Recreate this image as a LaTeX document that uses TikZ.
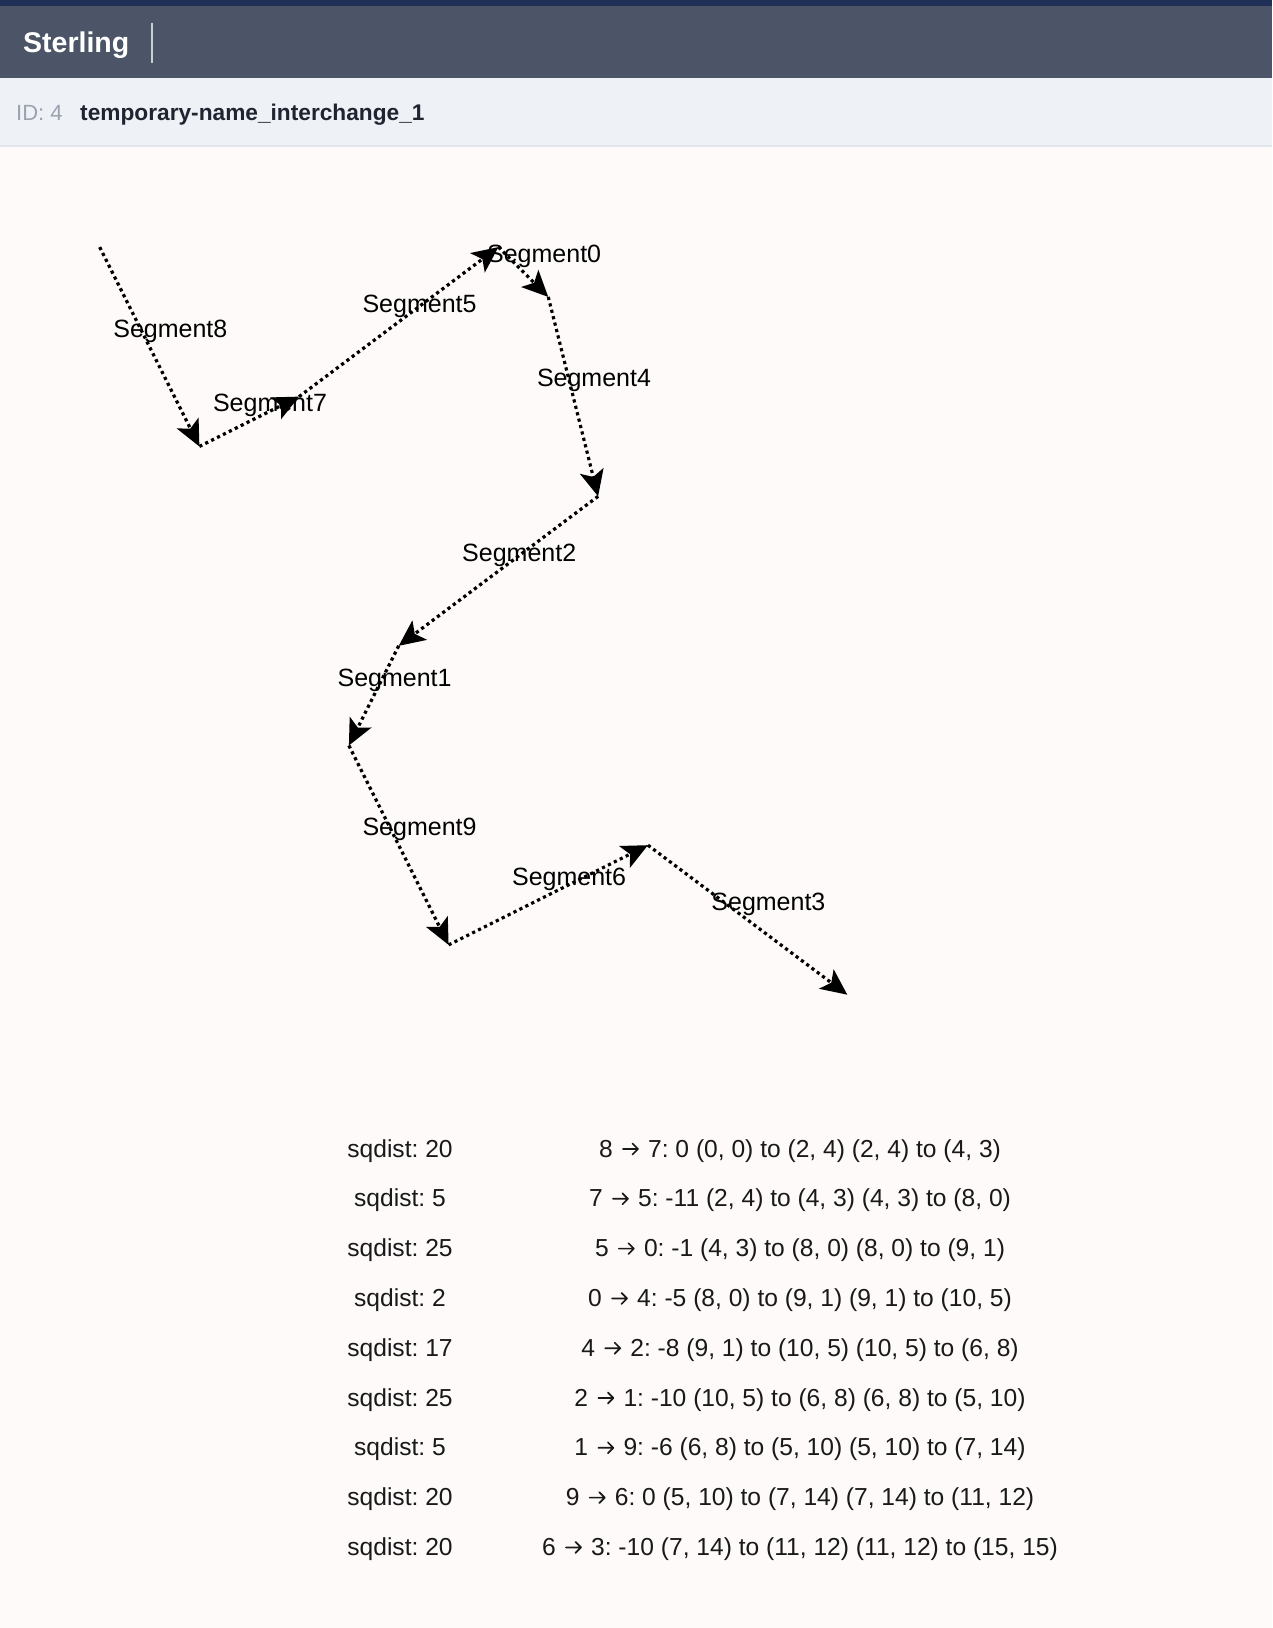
\documentclass[tikz,border=0pt]{standalone}
\usepackage{fontspec}
\setmainfont{Liberation Sans}
\usetikzlibrary{arrows.meta}
\frenchspacing
\definecolor{bg}{HTML}{FDFAF9}
\definecolor{navy}{HTML}{1F2F55}
\definecolor{hdr}{HTML}{4B5567}
\definecolor{sub}{HTML}{EEF1F6}
\definecolor{subline}{HTML}{E2E6EC}
\definecolor{idgray}{HTML}{9CA3AF}
\definecolor{titlec}{HTML}{1F2430}
\definecolor{sepc}{HTML}{C9CED6}
\newcommand{\rarr}{\hspace{2.5pt}\tikz[baseline=0pt, x=1pt, y=1pt]{\draw[line width=1.7pt, line cap=round, line join=round, black!90] (0,8) -- (15,8) (9.5,2.5) -- (15,8) -- (9.5,13.5);}\hspace{2.5pt}}
\begin{document}
\frenchspacing
\begin{tikzpicture}[x=1pt,y=-1pt,
  seg/.style={line width=3.2pt, dash pattern=on 3.2pt off 3.4pt, -{Stealth[length=26pt,width=24pt,inset=6pt]}},
  seglabel/.style={inner sep=0pt, font=\fontsize{25}{29}\selectfont},
  rowtext/.style={inner sep=0pt, anchor=base, font=\fontsize{24.6}{29}\selectfont\frenchspacing, text=black!90}]
\useasboundingbox (0,0) rectangle (1272,1628);
\fill[bg] (0,0) rectangle (1272,1628);
% header
\fill[hdr] (0,0) rectangle (1272,78);
\fill[navy] (0,0) rectangle (1272,6);
\fill[sub] (0,78) rectangle (1272,146);
\draw[subline, line width=1.5pt] (0,146) -- (1272,146);
\node[anchor=base west, inner sep=0pt, text=white, font=\fontsize{28.5}{33}\selectfont\bfseries] (brand) at (23,52) {Sterling};
\draw[sepc, line width=1.5pt] (152,23) -- (152,63);
\node[anchor=base west, inner sep=0pt, text=idgray, font=\fontsize{22}{26}\selectfont\frenchspacing] (idlbl) at (16,120) {ID: 4};
\node[anchor=base west, inner sep=0pt, text=titlec, font=\fontsize{22.7}{27}\selectfont\bfseries] (title) at (80,120) {temporary-name\_interchange\_1};
% points
\def\ux{49.84}
\foreach \n/\a/\b in {p0/0/0, p1/2/4, p2/4/3, p3/8/0, p4/9/1, p5/10/5, p6/6/8, p7/5/10, p8/7/14, p9/11/12, p10/15/15}{
  \coordinate (\n) at ({99.7+\ux*\a},{247.1+\ux*\b});
}
% segments
\foreach \s/\t/\lbl in {p0/p1/Segment8, p1/p2/Segment7, p2/p3/Segment5, p3/p4/Segment0, p4/p5/Segment4, p5/p6/Segment2, p6/p7/Segment1, p7/p8/Segment9, p8/p9/Segment6, p9/p10/Segment3}{
  \draw[seg] (\s) -- (\t);
  \path (\s) -- (\t) node[seglabel, pos=0.5, xshift=20.8pt, yshift=15.8pt] (l\lbl) {\lbl};
}
% table
\foreach \i/\d/\txt in {
 0/20/{8 \rarr{} 7: 0 (0, 0) to (2, 4) (2, 4) to (4, 3)},
 1/5/{7 \rarr{} 5: -11 (2, 4) to (4, 3) (4, 3) to (8, 0)},
 2/25/{5 \rarr{} 0: -1 (4, 3) to (8, 0) (8, 0) to (9, 1)},
 3/2/{0 \rarr{} 4: -5 (8, 0) to (9, 1) (9, 1) to (10, 5)},
 4/17/{4 \rarr{} 2: -8 (9, 1) to (10, 5) (10, 5) to (6, 8)},
 5/25/{2 \rarr{} 1: -10 (10, 5) to (6, 8) (6, 8) to (5, 10)},
 6/5/{1 \rarr{} 9: -6 (6, 8) to (5, 10) (5, 10) to (7, 14)},
 7/20/{9 \rarr{} 6: 0 (5, 10) to (7, 14) (7, 14) to (11, 12)},
 8/20/{6 \rarr{} 3: -10 (7, 14) to (11, 12) (11, 12) to (15, 15)}}{
  \node[rowtext] (d\i) at (400,{1157+49.8*\i}) {sqdist: \d};
  \node[rowtext] (r\i) at (800,{1157+49.8*\i}) {\txt};
}
\end{tikzpicture}
\end{document}
